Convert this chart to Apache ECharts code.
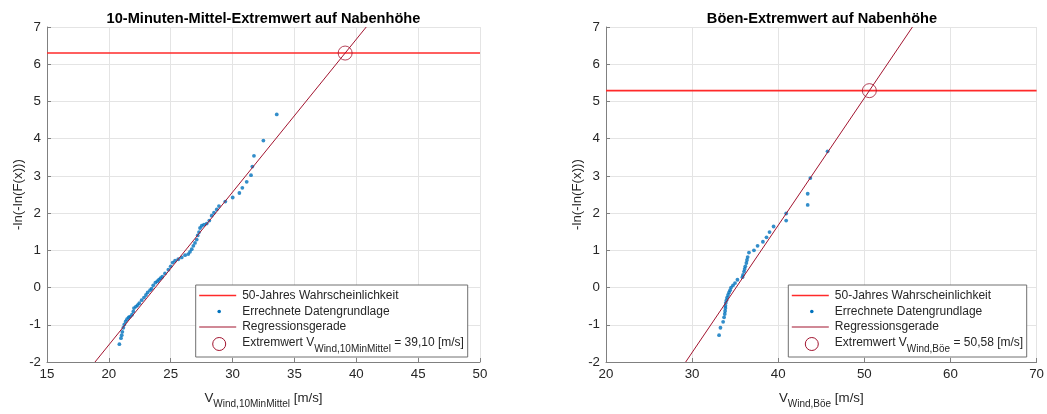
<!DOCTYPE html>
<html>
<head>
<meta charset="utf-8">
<script src="https://cdn.jsdelivr.net/npm/echarts@6/dist/echarts.min.js"></script>
<style>
  html, body { margin: 0; padding: 0; background: #ffffff; }
  #chart { width: 1047px; height: 414px; }
</style>
</head>
<body>
<div id="chart"></div>
<script>
// Gumbel-Diagramme der Windgeschwindigkeit auf Nabenhöhe

// 10-Minuten-Mittel: Datengrundlage (V [m/s], -ln(-ln(F(x))))
const meanSpeed = [20.85, 20.98, 21.04, 21.09, 21.17, 21.25, 21.36, 21.47, 21.60, 21.71,
  21.87, 21.98, 22.03, 22.19, 22.33, 22.46, 22.65, 22.84, 23.00, 23.14,
  23.33, 23.46, 23.59, 23.76, 23.92, 24.05, 24.18, 24.32, 24.54, 24.81,
  25.00, 25.16, 25.35, 25.61, 25.89, 26.16, 26.42, 26.56, 26.70, 26.83,
  26.96, 27.10, 27.18, 27.29, 27.37, 27.51, 27.69, 27.91, 28.12, 28.31,
  28.50, 28.72, 28.90, 29.41, 30.01, 30.55, 30.79, 31.14, 31.49, 31.60,
  31.73, 32.49, 33.57];
const meanReduced = [-1.52, -1.36, -1.28, -1.19, -1.08, -0.99, -0.91, -0.85, -0.80, -0.78,
  -0.73, -0.64, -0.55, -0.51, -0.47, -0.42, -0.34, -0.27, -0.20, -0.13,
  -0.07, -0.03, 0.06, 0.13, 0.17, 0.21, 0.25, 0.29, 0.38, 0.48,
  0.57, 0.67, 0.72, 0.76, 0.81, 0.87, 0.90, 0.96, 1.03, 1.12,
  1.20, 1.29, 1.40, 1.49, 1.60, 1.66, 1.69, 1.72, 1.80, 1.93,
  2.01, 2.10, 2.19, 2.31, 2.42, 2.54, 2.68, 2.84, 3.02, 3.25,
  3.54, 3.95, 4.65];
// [50-Jahres-Niveau, Extremwert, Steigung der Regressionsgeraden]
const meanFit = [6.30, 39.10, 0.4105];

// Böen: Datengrundlage
const gustSpeed = [33.13, 33.29, 33.60, 33.71, 33.79, 33.83, 33.87, 33.87, 33.91, 33.99,
  34.06, 34.17, 34.29, 34.41, 34.52, 34.75, 34.98, 35.26, 35.84, 35.91,
  36.03, 36.10, 36.18, 36.30, 36.37, 36.45, 36.60, 37.18, 37.60, 38.22,
  38.64, 38.99, 39.46, 40.92, 40.92, 43.42, 43.42, 43.73, 45.73];
const gustReduced = [-1.28, -1.08, -0.92, -0.80, -0.71, -0.63, -0.55, -0.49, -0.41, -0.34,
  -0.27, -0.20, -0.13, -0.07, 0.00, 0.06, 0.12, 0.21, 0.28, 0.34,
  0.43, 0.50, 0.57, 0.66, 0.74, 0.82, 0.94, 1.00, 1.12, 1.23,
  1.35, 1.49, 1.64, 1.80, 1.99, 2.22, 2.52, 2.94, 3.66];
const gustFit = [5.29, 50.58, 0.3418];

// Achsen
const xRangeMean = [15, 50, 5];
const xRangeGust = [20, 70, 10];
const yRange = [-2, 7, 1];

const titles = ['10-Minuten-Mittel-Extremwert auf Nabenhöhe', 'Böen-Extremwert auf Nabenhöhe'];
const xSubscripts = ['Wind,10MinMittel', 'Wind,Böe'];
const yName = '-ln(-ln(F(x)))';
const legendNames = ['50-Jahres Wahrscheinlichkeit', 'Errechnete Datengrundlage', 'Regressionsgerade', 'Extremwert'];

const FONT = '"Liberation Sans", Arial, Helvetica, sans-serif';
const TEXT = '#262626';
const AXIS = '#808080';
const GRIDLINE = '#e4e4e4';
const RED = '#ff2a2a';
const DARKRED = '#a2142f';
const BLUE = '#0072bd';

const grids = [
  { left: 47, top: 27, width: 433, height: 341 },
  { left: 606, top: 27, width: 432, height: 341 }
];

const fmt = v => v.toFixed(2).replace('.', ',');

function xAxisFor(i, range) {
  return {
    type: 'value', gridIndex: i, min: range[0], max: range[1], interval: range[2],
    name: '{v|V}{s|' + xSubscripts[i] + '}{v| [m/s]}',
    nameLocation: 'middle', nameGap: 30,
    nameTextStyle: {
      fontFamily: FONT, color: TEXT,
      rich: {
        v: { fontFamily: FONT, fontSize: 13.3, color: TEXT, lineHeight: 16, verticalAlign: 'top' },
        s: { fontFamily: FONT, fontSize: 10, color: TEXT, lineHeight: 10, padding: [7, 0, 0, 0], verticalAlign: 'top' }
      }
    },
    axisLine: { show: true, onZero: false, lineStyle: { color: AXIS, width: 1 } },
    axisTick: { show: true, inside: true, length: 4, lineStyle: { color: AXIS } },
    axisLabel: { margin: 6, fontFamily: FONT, fontSize: 13.3, color: TEXT, showMinLabel: true, showMaxLabel: true },
    splitLine: { show: true, lineStyle: { color: GRIDLINE, width: 1 } }
  };
}

function yAxisFor(i) {
  return {
    type: 'value', gridIndex: i, min: yRange[0], max: yRange[1], interval: yRange[2],
    name: yName, nameLocation: 'middle', nameGap: 22,
    nameTextStyle: { fontFamily: FONT, fontSize: 13.3, color: TEXT },
    axisLine: { show: true, onZero: false, lineStyle: { color: AXIS, width: 1 } },
    axisTick: { show: true, inside: true, length: 4, lineStyle: { color: AXIS } },
    axisLabel: { margin: 6, fontFamily: FONT, fontSize: 13.3, color: TEXT, showMinLabel: true, showMaxLabel: true },
    splitLine: { show: true, lineStyle: { color: GRIDLINE, width: 1 } }
  };
}

function seriesFor(i, xs, ys, fit, xRange) {
  const [level, extreme, slope] = fit;
  // Regressionsgerade durch den Extremwert, gezeichnet über den sichtbaren y-Bereich
  const xAt = y => extreme + (y - level) / slope;
  return [
    {
      name: legendNames[0], type: 'line', xAxisIndex: i, yAxisIndex: i,
      data: [[xRange[0], level], [xRange[1], level]],
      symbol: 'none', silent: true, animation: false, color: RED,
      itemStyle: { color: RED },
      lineStyle: { color: RED, width: 1.6 }, z: 2
    },
    {
      name: legendNames[1], type: 'scatter', xAxisIndex: i, yAxisIndex: i,
      data: xs.map((x, k) => [x, ys[k]]),
      symbol: 'circle', symbolSize: 3.8, animation: false,
      itemStyle: { color: BLUE }, z: 3
    },
    {
      name: legendNames[2], type: 'line', xAxisIndex: i, yAxisIndex: i,
      data: [[xAt(yRange[0]), yRange[0]], [xAt(yRange[1]), yRange[1]]],
      symbol: 'none', silent: true, animation: false, color: DARKRED,
      itemStyle: { color: DARKRED },
      lineStyle: { color: DARKRED, width: 1 }, z: 4
    },
    {
      name: legendNames[3], type: 'scatter', xAxisIndex: i, yAxisIndex: i,
      data: [[extreme, level]],
      symbol: 'circle', symbolSize: 14, animation: false,
      itemStyle: { color: 'rgba(0,0,0,0)', borderColor: DARKRED, borderWidth: 1 }, z: 5
    }
  ];
}

// Legendenkasten unten rechts im jeweiligen Diagramm
function legendBox(x0, y0, w, h, sub, extreme) {
  const rows = [10.5, 26.5, 42, 59];
  const tx = x0 + 46.5;
  const txt = (y, text) => ({
    type: 'text', silent: true, x: tx, y: y,
    style: { text: text, fontFamily: FONT, fontSize: 12, fill: TEXT, verticalAlign: 'middle', align: 'left' }
  });
  const sample = (y, color, lw) => ({
    type: 'rect', silent: true,
    shape: { x: x0 + 3.5, y: y - lw / 2, width: 37, height: lw },
    style: { fill: color, stroke: null }
  });
  return [
    { type: 'rect', silent: true, shape: { x: x0, y: y0, width: w, height: h },
      style: { fill: '#ffffff', stroke: '#707070', lineWidth: 1 }, z: 100 },
    Object.assign(sample(y0 + rows[0], RED, 1.6), { z: 101 }),
    Object.assign(txt(y0 + rows[0], legendNames[0]), { z: 101 }),
    { type: 'circle', silent: true, shape: { cx: x0 + 23.5, cy: y0 + rows[1], r: 1.8 }, style: { fill: BLUE }, z: 101 },
    Object.assign(txt(y0 + rows[1], legendNames[1]), { z: 101 }),
    Object.assign(sample(y0 + rows[2], DARKRED, 1.2), { z: 101 }),
    Object.assign(txt(y0 + rows[2], legendNames[2]), { z: 101 }),
    { type: 'circle', silent: true, shape: { cx: x0 + 23.5, cy: y0 + rows[3], r: 6.5 },
      style: { fill: 'none', stroke: DARKRED, lineWidth: 1 }, z: 101 },
    {
      type: 'text', silent: true, x: tx, y: y0 + rows[3] - 7, z: 101,
      style: {
        verticalAlign: 'top', align: 'left',
        text: '{m|' + legendNames[3] + ' V}{s|' + sub + '}{m| = ' + fmt(extreme) + ' [m/s]}',
        rich: {
          m: { fontFamily: FONT, fontSize: 12, fill: TEXT, lineHeight: 14, verticalAlign: 'top' },
          s: { fontFamily: FONT, fontSize: 10, fill: TEXT, lineHeight: 10, padding: [7, 0, 0, 0], verticalAlign: 'top' }
        }
      }
    }
  ];
}

const chart = echarts.init(document.getElementById('chart'), null, { renderer: 'canvas' });

chart.setOption({
  backgroundColor: '#ffffff',
  animation: false,
  title: titles.map((t, i) => ({
    text: t,
    left: grids[i].left + grids[i].width / 2,
    textAlign: 'center',
    top: 11, padding: 0,
    textStyle: { fontFamily: FONT, fontSize: 14.6, fontWeight: 'bold', color: '#000000' }
  })),
  grid: grids,
  xAxis: [xAxisFor(0, xRangeMean), xAxisFor(1, xRangeGust)],
  yAxis: [yAxisFor(0), yAxisFor(1)],
  series: [
    ...seriesFor(0, meanSpeed, meanReduced, meanFit, xRangeMean),
    ...seriesFor(1, gustSpeed, gustReduced, gustFit, xRangeGust)
  ],
  graphic: [
    ...legendBox(195.7, 285, 272, 72, xSubscripts[0], meanFit[1]),
    ...legendBox(788.3, 285, 238.4, 72, xSubscripts[1], gustFit[1])
  ]
});
</script>
</body>
</html>
